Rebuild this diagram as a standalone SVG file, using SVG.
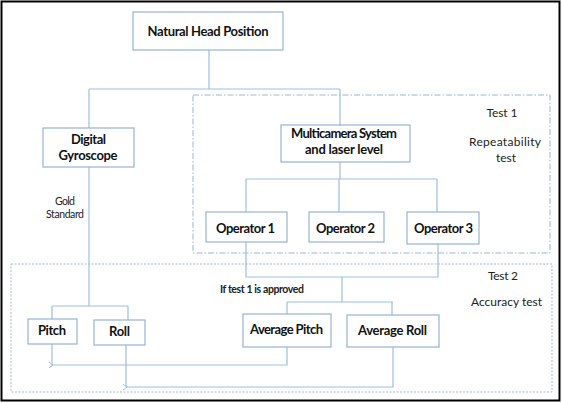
<svg xmlns="http://www.w3.org/2000/svg" width="562" height="403" viewBox="0 0 562 403">
<style>
.box{fill:#fff;stroke:#95b3d7;stroke-width:1.2}
.ln{fill:none;stroke:#9cbfe3;stroke-width:1.2}
.b{font-family:Lato,"Open Sans",sans-serif;font-weight:bold;font-size:13px;fill:#111;text-anchor:middle}
.r{font-family:Lato,"Open Sans",sans-serif;font-size:12px;fill:#222;text-anchor:middle}
.s{font-family:Lato,"Open Sans",sans-serif;font-size:10.5px;fill:#222;text-anchor:middle}
</style>
<defs>
<marker id="arr" markerWidth="8" markerHeight="8" refX="1" refY="4" orient="auto" markerUnits="userSpaceOnUse">
<path d="M5,1 L1,4 L5,7" fill="none" stroke="#9cbfe3" stroke-width="1"/>
</marker>
</defs>
<rect x="1.5" y="1.5" width="558" height="399" fill="#fff" stroke="#000" stroke-width="2"/>
<g id="test1-region">
<rect x="193" y="95" width="357" height="158" fill="none" stroke="#9ab5d4" stroke-width="1" stroke-dasharray="6 2 1.5 2"/>
<text class="r" x="502" y="117" textLength="31">Test 1</text>
<text class="r" x="505" y="146" textLength="72">Repeatability</text>
<text class="r" x="506" y="162" textLength="20">test</text>
</g>
<g id="test2-region">
<rect x="11" y="264" width="541" height="128" fill="none" stroke="#a9b9ca" stroke-width="1" stroke-dasharray="2 1.5"/>
<text class="r" x="503" y="280" textLength="30">Test 2</text>
<text class="r" x="506.5" y="306" textLength="71">Accuracy test</text>
</g>
<g id="connectors">
<path class="ln" d="M209,50 V89 M89,89 H340 M89,89 V128 M340,89 V125"/>
<path class="ln" d="M340,162 V179 M246,179 H437 M246,179 V212 M339,179 V212 M437,179 V212"/>
<path class="ln" d="M246,242 V277 H438 V244 M342,277 V302 M287,302 H393 M287,302 V314 M392,302 V315"/>
<path class="ln" d="M89,167 V306 M52,306 H128 M52,306 V319 M128,306 V320"/>
<path class="ln" d="M52,344 V365"/>
<path class="ln" d="M287,347 V365 H53" marker-end="url(#arr)"/>
<path class="ln" d="M126,345 V387"/>
<path class="ln" d="M393,347 V387 H127" marker-end="url(#arr)"/>
<text class="s" x="65" y="205" textLength="20">Gold</text>
<text class="s" x="65" y="218" textLength="38">Standard</text>
<text class="s" x="262" y="293" textLength="84" style="font-weight:bold">If test 1 is approved</text>
</g>
<g id="nhp">
<rect class="box" x="133" y="12" width="150" height="38"/>
<text class="b" x="208" y="35.5" textLength="121">Natural Head Position</text>
</g>
<g id="gyro">
<rect class="box" x="43" y="128" width="91" height="39"/>
<text class="b" x="88.5" y="144" textLength="35">Digital</text>
<text class="b" x="88" y="160" textLength="59">Gyroscope</text>
</g>
<g id="multicam">
<rect class="box" x="281" y="125" width="129" height="37"/>
<text class="b" x="344" y="138" textLength="106">Multicamera System</text>
<text class="b" x="344" y="154" textLength="78">and laser level</text>
</g>
<g id="op1">
<rect class="box" x="206" y="212" width="81" height="30"/>
<text class="b" x="245.5" y="233" textLength="59">Operator 1</text>
</g>
<g id="op2">
<rect class="box" x="309" y="212" width="75" height="30"/>
<text class="b" x="345.5" y="233" textLength="59">Operator 2</text>
</g>
<g id="op3">
<rect class="box" x="407" y="212" width="72" height="32"/>
<text class="b" x="443.5" y="233" textLength="59">Operator 3</text>
</g>
<g id="pitch">
<rect class="box" x="28" y="319" width="49" height="25"/>
<text class="b" x="52" y="335" textLength="28">Pitch</text>
</g>
<g id="roll">
<rect class="box" x="94" y="320" width="51" height="25"/>
<text class="b" x="119.5" y="336" textLength="21">Roll</text>
</g>
<g id="avgpitch">
<rect class="box" x="243" y="314" width="88" height="33"/>
<text class="b" x="286.5" y="334" textLength="73">Average Pitch</text>
</g>
<g id="avgroll">
<rect class="box" x="347" y="315" width="92" height="32"/>
<text class="b" x="392.5" y="335" textLength="69">Average Roll</text>
</g>
</svg>
